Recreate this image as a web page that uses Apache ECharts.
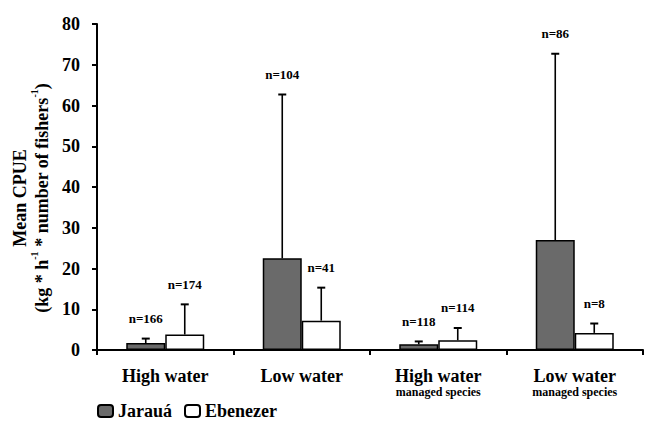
<!DOCTYPE html>
<html>
<head>
<meta charset="utf-8">
<script src="https://cdn.jsdelivr.net/npm/echarts@6/dist/echarts.min.js"></script>
<style>html,body{margin:0;padding:0;background:#fff}#c{width:654px;height:433px}</style>
</head>
<body>
<div id="c"></div>
<script>
const categories = ['High water', 'Low water', 'High water', 'Low water'];
const categorySub = ['', '', 'managed species', 'managed species'];
const seriesNames = ['Jarauá', 'Ebenezer'];
const jaraua = [1.7, 22.5, 1.4, 27.0];
const jarauaErrTop = [2.8, 62.7, 2.1, 72.7];
const jarauaN = [166, 104, 118, 86];
const ebenezer = [3.8, 7.2, 2.4, 4.2];
const ebenezerErrTop = [11.2, 15.3, 5.4, 6.5];
const ebenezerN = [174, 41, 114, 8];
const yTicks = { min: 0, max: 80, interval: 10 };

const FONT = '"Liberation Serif", "DejaVu Serif", serif';
const BAR_W = 39;

function errData(means, tops, ns) {
  return means.map((m, i) => [i, m, tops[i], ns[i]]);
}
function errSeries(name, data, offset) {
  return {
    type: 'custom', name: name + ' error', z: 5,
    encode: { x: 0, y: [1, 2] },
    data: data,
    renderItem: function (params, api) {
      const base = api.coord([api.value(0), api.value(1)]);
      const top = api.coord([api.value(0), api.value(2)]);
      const x = base[0] + offset;
      return {
        type: 'group', children: [
          { type: 'line', shape: { x1: x, y1: base[1], x2: x, y2: top[1] }, style: { stroke: '#000', lineWidth: 1.6 } },
          { type: 'line', shape: { x1: x - 4, y1: top[1], x2: x + 4, y2: top[1] }, style: { stroke: '#000', lineWidth: 2 } },
          { type: 'text', x: x, y: top[1] - 20, style: { text: 'n=' + api.value(3), textAlign: 'center', textVerticalAlign: 'middle', fontFamily: FONT, fontWeight: 'bold', fontSize: 13, fill: '#000' } }
        ]
      };
    }
  };
}

const chart = echarts.init(document.getElementById('c'), null, { renderer: 'svg' });
chart.setOption({
  backgroundColor: '#fff',
  animation: false,
  grid: { left: 97, right: 11, top: 24, bottom: 83 },
  legend: {
    data: seriesNames, left: 92, top: 397, itemWidth: 15, itemHeight: 12, itemGap: 12,
    textStyle: { fontFamily: FONT, fontWeight: 'bold', fontSize: 18, color: '#000' }
  },
  xAxis: {
    type: 'category', data: categories,
    axisLine: { lineStyle: { color: '#000', width: 2 } },
    axisTick: { show: true, length: 5, lineStyle: { color: '#000', width: 2 } },
    axisLabel: {
      margin: 17, interval: 0,
      formatter: function (v, i) {
        return categorySub[i] ? '{m|' + v + '}\n{s|' + categorySub[i] + '}' : '{m|' + v + '}';
      },
      rich: {
        m: { fontFamily: FONT, fontWeight: 'bold', fontSize: 18, color: '#000', lineHeight: 18 },
        s: { fontFamily: FONT, fontWeight: 'bold', fontSize: 12, color: '#000', lineHeight: 14 }
      }
    }
  },
  yAxis: {
    type: 'value', min: yTicks.min, max: yTicks.max, interval: yTicks.interval,
    splitLine: { show: false },
    axisLine: { show: true, lineStyle: { color: '#000', width: 2 } },
    axisTick: { show: true, length: 5, lineStyle: { color: '#000', width: 2 } },
    axisLabel: { margin: 17, fontFamily: FONT, fontWeight: 'bold', fontSize: 18, color: '#000' },
    name: '{h|Mean CPUE}\n{t|(kg * h}{s|-1}{t| * number of fishers}{s|-1}{t|)}',
    nameLocation: 'middle', nameRotate: 90, nameGap: 46,
    nameTextStyle: {
      align: 'center', padding: [0, 22, 0, 0],
      rich: {
        h: { fontFamily: FONT, fontWeight: 'bold', fontSize: 18, color: '#000', lineHeight: 22, verticalAlign: 'bottom' },
        t: { fontFamily: FONT, fontWeight: 'bold', fontSize: 18, color: '#000', lineHeight: 22, verticalAlign: 'bottom' },
        s: { fontFamily: FONT, fontWeight: 'bold', fontSize: 10, color: '#000', lineHeight: 22, verticalAlign: 'top' }
      }
    }
  },
  series: [
    { type: 'bar', name: seriesNames[0], data: jaraua, barWidth: BAR_W, barGap: '0%', itemStyle: { color: '#6a6a6a', borderColor: '#000', borderWidth: 1.5 } },
    { type: 'bar', name: seriesNames[1], data: ebenezer, barWidth: BAR_W, barGap: '0%', itemStyle: { color: '#fff', borderColor: '#000', borderWidth: 1.5 } },
    errSeries(seriesNames[0], errData(jaraua, jarauaErrTop, jarauaN), -BAR_W / 2),
    errSeries(seriesNames[1], errData(ebenezer, ebenezerErrTop, ebenezerN), BAR_W / 2)
  ]
});
</script>
</body>
</html>
